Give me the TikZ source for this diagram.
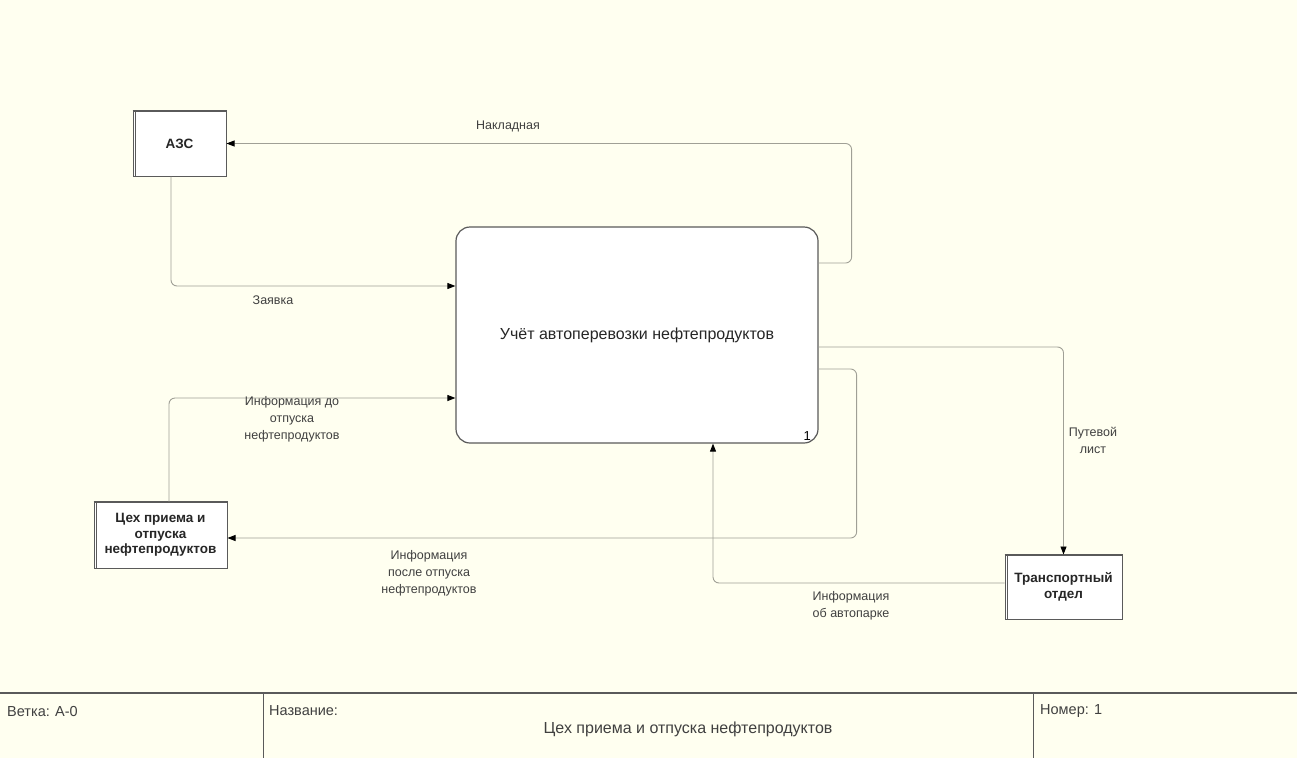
\documentclass[tikz,border=0pt]{standalone}
\usepackage{fontspec}
\setmainfont{Liberation Sans}
\usetikzlibrary{arrows.meta}
\definecolor{paper}{RGB}{255,255,240}
\definecolor{wire}{RGB}{160,160,150}
\definecolor{edge}{RGB}{90,90,90}
\tikzset{
  conn/.style={draw=wire, line width=0.9pt, rounded corners=6pt,
    -{Triangle[length=8pt,width=6pt,color=black]}},
  lbl/.style={font=\fontsize{12.5}{17}\selectfont, align=center, text=black!75, inner sep=0pt},
  extbox/.style={draw=edge, line width=1pt, fill=white, align=center,
    font=\fontsize{13.5}{15.5}\bfseries\selectfont, inner sep=0pt, text=black!85},
  actbox/.style={draw=edge, line width=1.2pt, fill=white, rounded corners=14pt,
    minimum width=362pt, minimum height=216pt, inner sep=0pt,
    font=\fontsize{16}{19}\selectfont, text=black!85},
  foot/.style={font=\fontsize{14.5}{16}\selectfont, text=black!75, inner sep=0pt},
}
\begin{document}
\begin{tikzpicture}[x=1pt,y=-1pt]
  \fill[paper] (0,0) rectangle (1297,758);
  \useasboundingbox (0,0) rectangle (1297,758);

  % activity box
  \node[actbox] (main) at (637,335) {Учёт автоперевозки нефтепродуктов};
  \node[font=\fontsize{13}{14}\selectfont, anchor=south east, inner sep=0pt]
    (num) at (811,441) {1};

  % external entities (thick top edge, doubled left edge)
  \node[extbox, minimum width=93pt, minimum height=65pt] (azs) at (179.5,143.5) {АЗС};
  \node[extbox, minimum width=133pt, minimum height=66pt] (cex) at (160.5,535)
    {Цех приема и\\отпуска\\нефтепродуктов};
  \node[extbox, minimum width=117pt, minimum height=64pt] (tr) at (1063.5,587)
    {Транспортный\\отдел};
  \foreach \b in {azs,cex,tr}{
    \draw[edge, line width=2pt] (\b.north west) -- (\b.north east);
    \draw[edge, line width=0.8pt] ([xshift=3pt]\b.north west) -- ([xshift=3pt]\b.south west);
  }

  % arrows
  \draw[conn] ([yshift=72pt]main.east) -- ++(33,0) |- (azs.east);
  \draw[conn] ([xshift=-8.5pt]azs.south) |- ([yshift=49pt]main.west);
  \draw[conn] ([xshift=8.5pt]cex.north) |- ([yshift=-63pt]main.west);
  \draw[conn] ([yshift=-34pt]main.east) -- ++(38,0) |- ([yshift=-3pt]cex.east);
  \draw[conn] ([yshift=-12pt]main.east) -| (tr.north);
  \draw[conn] ([yshift=4pt]tr.west) -| ([xshift=76pt]main.south);

  % arrow labels
  \node[lbl] (l1) at (508,126) {Накладная};
  \node[lbl] (l2) at (273,300) {Заявка};
  \node[lbl] (l3) at (292,419) {Информация до\\отпуска\\нефтепродуктов};
  \node[lbl] (l4) at (429,573) {Информация\\после отпуска\\нефтепродуктов};
  \node[lbl] (l5) at (1093,440) {Путевой\\лист};
  \node[lbl] (l6) at (851,606) {Информация\\об автопарке};

  % title block
  \draw[edge, line width=1.2pt] (0,693) -- (1297,693);
  \draw[edge, line width=1pt] (263,693) -- (263,758);
  \draw[edge, line width=1pt] (1033,693) -- (1033,758);
  \node[foot, anchor=west] (br) at (7,711) {Ветка: А-0};
  \node[foot, anchor=west] (nm) at (269,711) {Название:};
  \node[foot, font=\fontsize{16}{18}\selectfont] (tt) at (688,729)
    {Цех приема и отпуска нефтепродуктов};
  \node[foot, anchor=west] (no) at (1040,711) {Номер: 1};
\end{tikzpicture}
\end{document}
